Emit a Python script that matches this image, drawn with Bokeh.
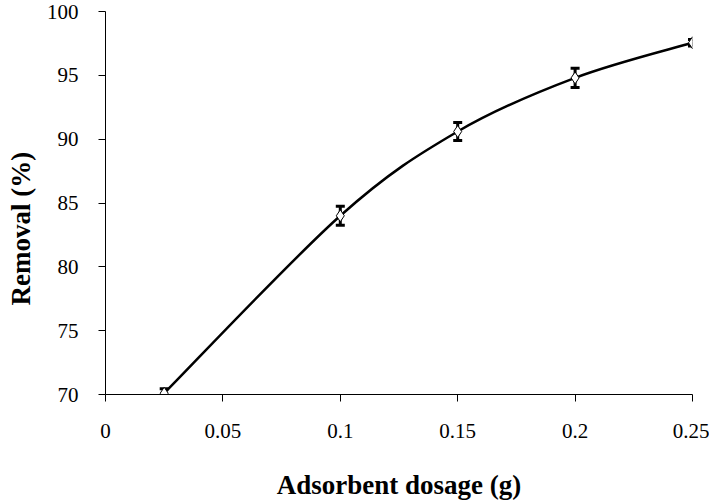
import numpy as np
from bokeh.plotting import figure
from bokeh.models import Range1d, FixedTicker, Whisker, ColumnDataSource, Title
from bokeh.embed import file_html
from bokeh.resources import INLINE

# data
dosage = [0.025, 0.1, 0.15, 0.2, 0.25]
removal = [70.1, 84.0, 90.6, 94.8, 97.55]
err = [0.35, 0.75, 0.7, 0.75, 0.25]
x_ticks = [0, 0.05, 0.1, 0.15, 0.2, 0.25]
x_tick_labels = ["0", "0.05", "0.1", "0.15", "0.2", "0.25"]
y_ticks = [70, 75, 80, 85, 90, 95, 100]

FONT = "Liberation Serif"

p = figure(width=709, height=502, output_backend="svg", toolbar_location=None,
           x_range=Range1d(0, 0.25), y_range=Range1d(70, 100),
           min_border_left=105, min_border_right=17, min_border_top=11, min_border_bottom=108)
p.outline_line_color = None
p.xgrid.visible = False
p.ygrid.visible = False
p.background_fill_color = "white"
p.border_fill_color = "white"

# smoothed curve (Excel-style Catmull-Rom bezier through the data points)
xs = np.array(dosage, dtype=float)
ys = np.array(removal, dtype=float)
n = len(xs)
x0, y0, x1, y1, cx0, cy0, cx1, cy1 = [], [], [], [], [], [], [], []
for i in range(n - 1):
    pm = i - 1 if i > 0 else i
    pp = i + 2 if i + 2 < n else i + 1
    x0.append(xs[i]); y0.append(ys[i])
    x1.append(xs[i + 1]); y1.append(ys[i + 1])
    cx0.append(xs[i] + (xs[i + 1] - xs[pm]) / 6.0)
    cy0.append(ys[i] + (ys[i + 1] - ys[pm]) / 6.0)
    cx1.append(xs[i + 1] - (xs[pp] - xs[i]) / 6.0)
    cy1.append(ys[i + 1] - (ys[pp] - ys[i]) / 6.0)
p.bezier(x0=x0, y0=y0, x1=x1, y1=y1, cx0=cx0, cy0=cy0, cx1=cx1, cy1=cy1,
         line_color="black", line_width=2.5)

p.scatter(dosage, removal, marker="diamond", size=12, fill_color="white",
          line_color="black", line_width=1)

src = ColumnDataSource(data=dict(x=dosage,
                                 lo=[r - e for r, e in zip(removal, err)],
                                 hi=[r + e for r, e in zip(removal, err)]))
w = Whisker(base="x", lower="lo", upper="hi", source=src, dimension="height",
            line_color="black", line_width=3)
w.upper_head.size = 9
w.lower_head.size = 9
w.upper_head.line_width = 3
w.lower_head.line_width = 3
p.add_layout(w)

for ax in (p.xaxis[0], p.yaxis[0]):
    ax.axis_line_color = "black"
    ax.major_tick_line_color = "black"
    ax.minor_tick_line_color = None
    ax.major_tick_out = 7
    ax.major_tick_in = 0
    ax.major_label_text_font = FONT
    ax.major_label_text_font_size = "21px"
    ax.major_label_text_color = "black"
    ax.axis_label_text_font = FONT
    ax.axis_label_text_font_size = "27px"
    ax.axis_label_text_font_style = "bold"
    ax.axis_label_text_color = "black"

p.xaxis.ticker = FixedTicker(ticks=x_ticks)
p.xaxis.major_label_overrides = {t: l for t, l in zip(x_ticks, x_tick_labels)}
p.yaxis.ticker = FixedTicker(ticks=y_ticks)
p.xaxis.axis_label = "Adsorbent dosage (g)"
p.xaxis.axis_label_text_line_height = 0.8
p.xaxis.major_label_standoff = 22
p.xaxis.axis_label_standoff = 29
p.yaxis.major_label_standoff = 20

ytitle = Title(text="Removal (%)", align="left", offset=89, standoff=11,
               vertical_align="top", text_line_height=0.75,
               text_font=FONT, text_font_size="27px", text_font_style="bold",
               text_color="black")
p.add_layout(ytitle, "left")

open("out.html", "w").write(file_html(p, INLINE))
